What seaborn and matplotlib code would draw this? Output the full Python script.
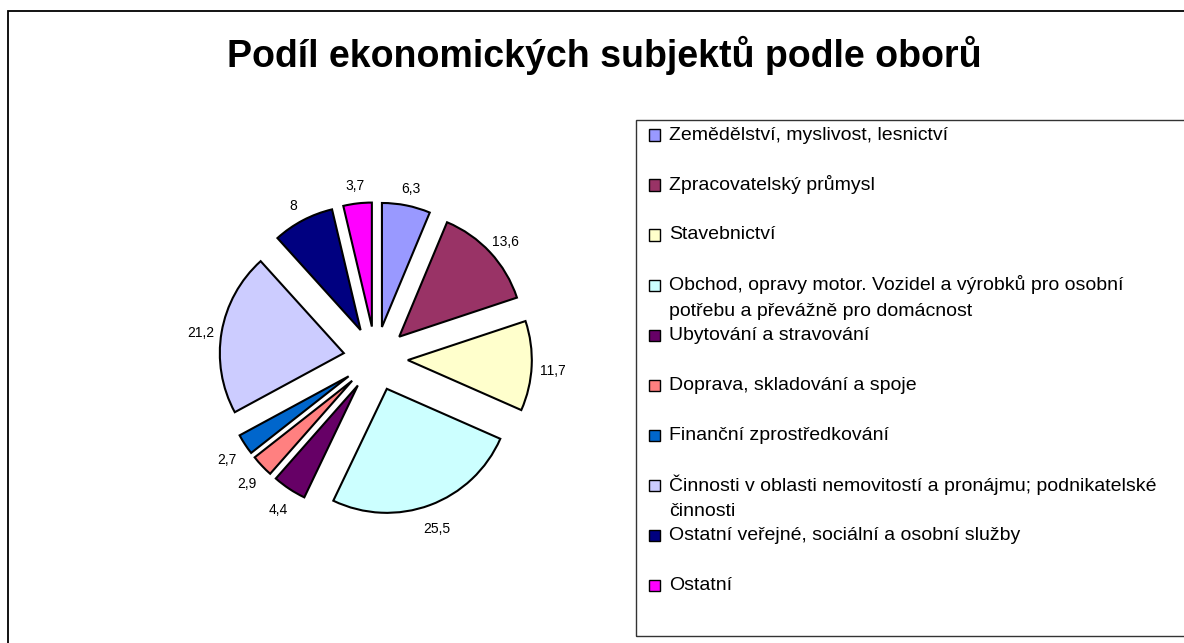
import matplotlib
matplotlib.use('Agg')
import matplotlib.pyplot as plt
import seaborn as sns
from matplotlib.patches import Rectangle

# data
categories = [
    'Zemědělství, myslivost, lesnictví',
    'Zpracovatelský průmysl',
    'Stavebnictví',
    'Obchod, opravy motor. Vozidel a výrobků pro osobní\npotřebu a převážně pro domácnost',
    'Ubytování a stravování',
    'Doprava, skladování a spoje',
    'Finanční zprostředkování',
    'Činnosti v oblasti nemovitostí a pronájmu; podnikatelské\nčinnosti',
    'Ostatní veřejné, sociální a osobní služby',
    'Ostatní',
]
values = [6.3, 13.6, 11.7, 25.5, 4.4, 2.9, 2.7, 21.2, 8, 3.7]
colors = ['#9999FF', '#993366', '#FFFFCC', '#CCFFFF', '#660066',
          '#FF8080', '#0066CC', '#CCCCFF', '#000080', '#FF00FF']
title = 'Podíl ekonomických subjektů podle oborů'

value_labels = [f'{v:g}'.replace('.', ',') for v in values]
palette = sns.color_palette(colors)

sns.set_style('white')
plt.rcParams['font.family'] = ['Liberation Sans', 'DejaVu Sans']
plt.rcParams['text.color'] = 'black'

W, H = 1184, 643
fig = plt.figure(figsize=(W / 100, H / 100), dpi=100)

# pie placed by pixel centre / radius
cx, cy, r = 375.6, 358.6, 124
R = 200
ax = fig.add_axes([(cx - R) / W, 1 - (cy + R) / H, 2 * R / W, 2 * R / H])
wedges, texts = ax.pie(values, labels=value_labels, colors=palette, startangle=90,
                       counterclock=False, explode=[0.26] * len(values), radius=1,
                       labeldistance=1.17,
                       wedgeprops=dict(edgecolor='black', linewidth=1.5),
                       textprops=dict(fontsize=10, ha='center', va='center',
                                      color='black'))
# labels sit a few pixels lower in the original
for t in texts:
    x, y = t.get_position()
    t.set_position((x, y - 4 / r))
ax.set_xlim(-R / r, R / r)
ax.set_ylim(-R / r, R / r)
ax.axis('off')

fig.text(604.5 / W, 1 - 55 / H, title, ha='center', va='center',
         fontsize=27, fontweight='bold', color='black')

# outer frame (only left and top edges visible)
fig.add_artist(Rectangle((8 / W, -0.1), 2, 1.1 - 11 / H, transform=fig.transFigure,
                         fill=False, edgecolor='black', linewidth=1.3))

# legend box
fig.add_artist(Rectangle((636 / W, 1 - 636 / H), 1, (636 - 120) / H,
                         transform=fig.transFigure, fill=False,
                         edgecolor='#333333', linewidth=1))
for i, (lab, col) in enumerate(zip(categories, palette)):
    y = 135 + 50 * i
    fig.add_artist(Rectangle((649 / W, 1 - (y + 5.5) / H), 11 / W, 11 / H,
                             transform=fig.transFigure, facecolor=col,
                             edgecolor='black', linewidth=1))
    for k, line in enumerate(lab.split('\n')):
        fig.text(669 / W, 1 - (y + 26 * k) / H, line, ha='left', va='center',
                 fontsize=14, color='black')

fig.savefig('out.png', dpi=100)
